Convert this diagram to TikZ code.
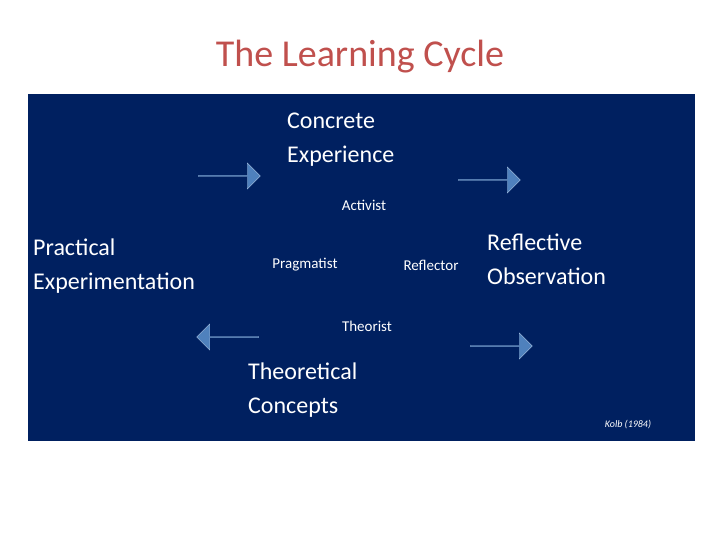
\documentclass[tikz,border=0pt]{standalone}
\usepackage{fontspec}
\setmainfont{Carlito}
\usetikzlibrary{shapes.arrows}
\definecolor{panel}{RGB}{0,32,96}
\definecolor{titlered}{RGB}{192,80,77}
\definecolor{arrowblue}{RGB}{79,129,189}
\tikzset{
  stage/.style={text=white, align=left, font=\fontsize{24}{34}\selectfont, inner sep=0pt},
  role/.style={text=white, font=\fontsize{15}{18}\selectfont, inner sep=0pt},
  flow/.style={single arrow, draw=arrowblue!60!white, fill=arrowblue, inner sep=0pt,
    minimum width=26pt, minimum height=62pt, single arrow head extend=5pt}
}
\begin{document}
\begin{tikzpicture}[x=1pt, y=-1pt]
  \useasboundingbox (0,0) rectangle (720,540);
  % Background
  \fill[panel] (28,94) rectangle (695,441);
  \node (title) at (360,57) [text=titlered, font=\fontsize{38}{44}\selectfont] {The Learning Cycle};

  % Stages
  \node (concrete) at (287,140) [stage, anchor=west] {Concrete\\Experience};
  \node (reflective) at (487,259) [stage, anchor=west] {Reflective\\Observation};
  \node (theoretical) at (248,390) [stage, anchor=west] {Theoretical\\Concepts};
  \node (practical) at (33,266) [stage, anchor=west] {Practical\\Experimentation};

  % Roles
  \node (activist) at (364,205) [role] {Activist};
  \node (pragmatist) at (305,265) [role] {Pragmatist};
  \node (reflector) at (431,265) [role] {Reflector};
  \node (theorist) at (367,326) [role] {Theorist};
  \node (kolb) at (628,425) [text=white, font=\fontsize{10}{12}\selectfont\itshape] {Kolb (1984)};

  % Arrows
  \node (arrowA) at (229,176) [flow, shape border rotate=42] {};
  \node (arrowB) at (489,180) [flow, shape border rotate=-42] {};
  \node (arrowC) at (501,346) [flow, shape border rotate=-132] {};
  \node (arrowD) at (228,337) [flow, shape border rotate=137] {};
\end{tikzpicture}
\end{document}
